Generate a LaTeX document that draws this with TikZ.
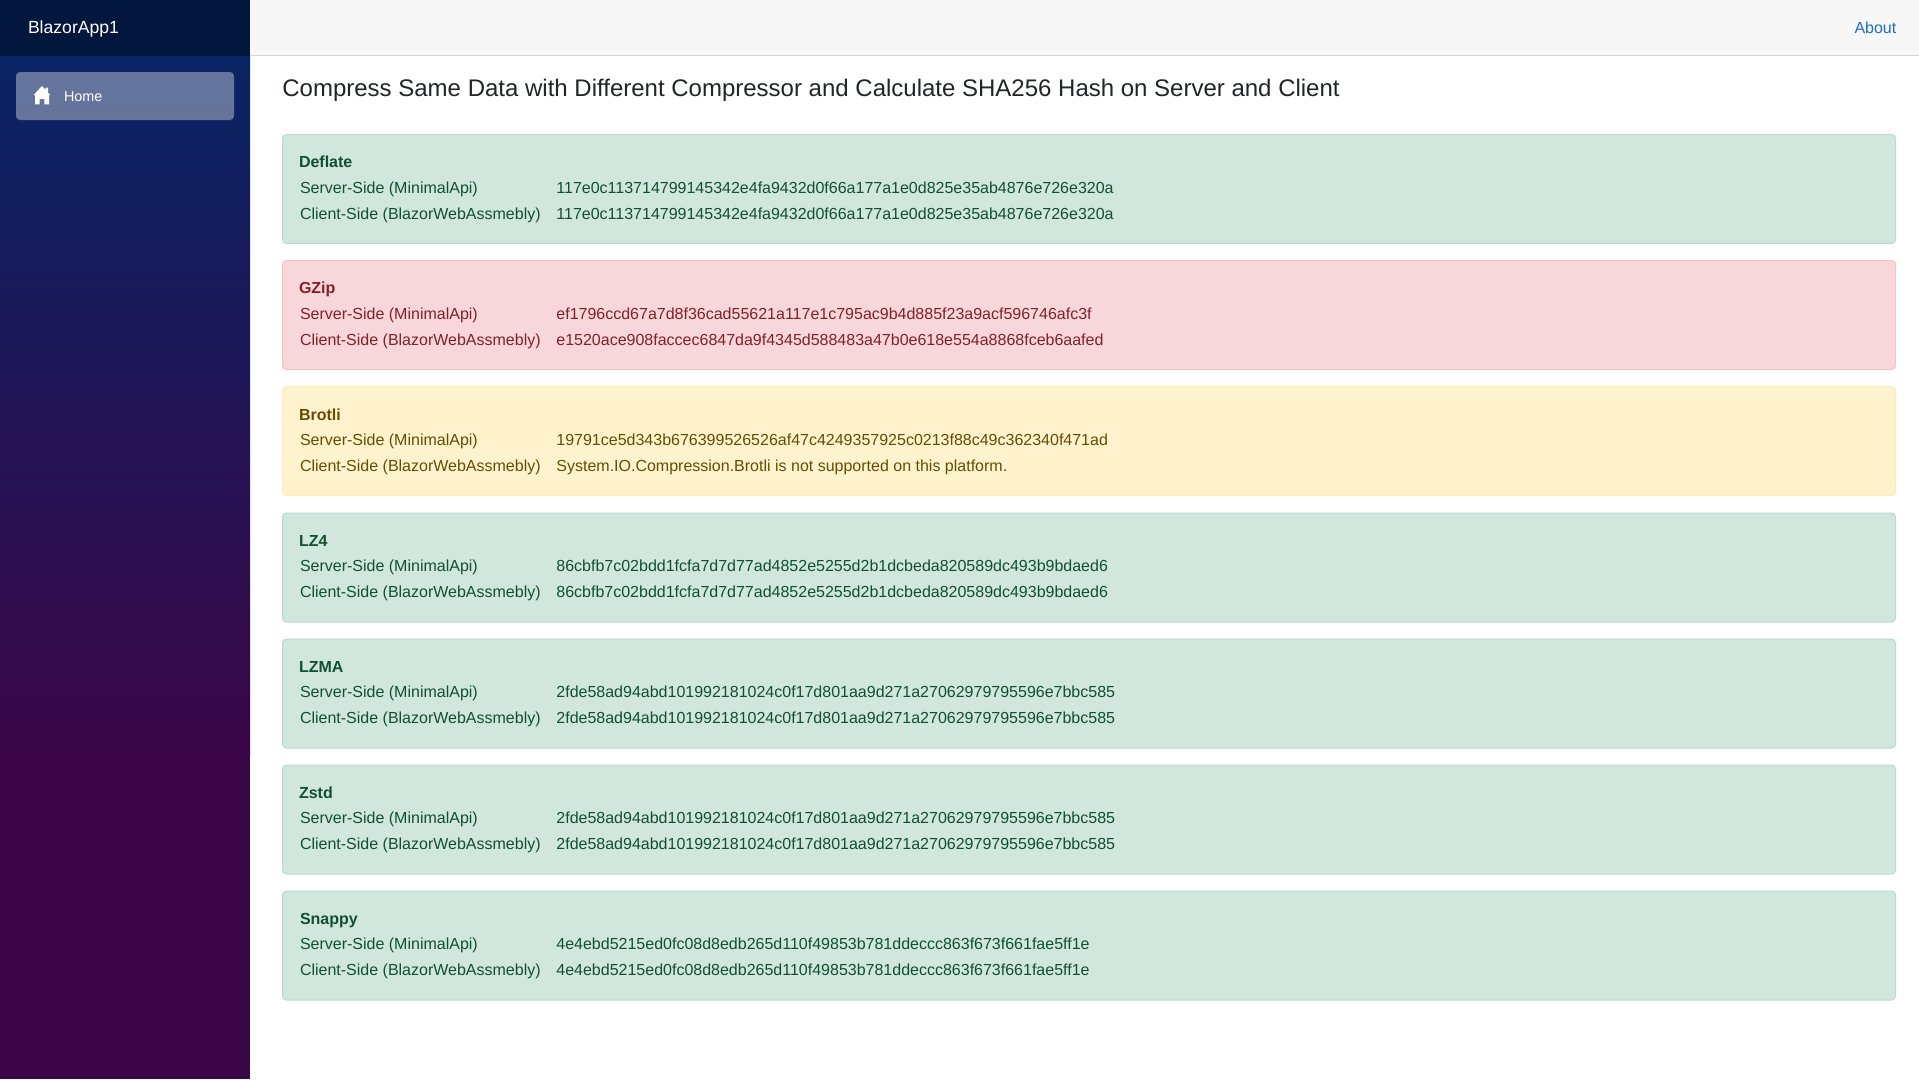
\documentclass[tikz,border=0pt]{standalone}
\usepackage{fontspec}
\setmainfont{Liberation Sans}
\definecolor{okbg}{HTML}{D1E7DD}\definecolor{okbd}{HTML}{BADBCC}\definecolor{oktx}{HTML}{0F5132}
\definecolor{badbg}{HTML}{F8D7DA}\definecolor{badbd}{HTML}{F5C2C7}\definecolor{badtx}{HTML}{842029}
\definecolor{warnbg}{HTML}{FFF3CD}\definecolor{warnbd}{HTML}{FFECB5}\definecolor{warntx}{HTML}{664D03}
\definecolor{sidetop}{RGB}{5,39,103}\definecolor{sidebot}{RGB}{58,6,71}
\definecolor{brandbg}{HTML}{03173E}\definecolor{headbg}{HTML}{F7F7F7}\definecolor{headbd}{HTML}{D6D5D5}
\definecolor{linkc}{HTML}{1B6EC2}\definecolor{titlec}{HTML}{212529}
\tikzset{
  x=0.75pt,y=-0.75pt,
  txt/.style={anchor=base west,inner sep=0pt,outer sep=0pt,font=\fontsize{12}{14}\selectfont},
  headtxt/.style={txt,font=\fontsize{12}{14}\selectfont\bfseries},
  alertbox/.style={rounded corners=3pt,line width=0.75pt},
}
\newcommand{\alertrow}[8]{%
  % #1 name, #2 top y, #3 colour prefix, #4 title, #5 server hash, #6 client hash, #7 hash x, #8 title x
  \path[alertbox,fill=#3bg,draw=#3bd] (282.5,#2+0.5) rectangle (1895.5,#2+109.5);
  \node[headtxt,text=#3tx] (#1t) at (#8,#2+33.8) {#4};
  \node[txt,text=#3tx] (#1sl) at (300,#2+59.3) {Server-Side (MinimalApi)};
  \node[txt,text=#3tx] (#1cl) at (300,#2+85.3) {Client-Side (BlazorWebAssmebly)};
  \node[txt,text=#3tx] (#1sv) at (#7,#2+59.3) {#5};
  \node[txt,text=#3tx] (#1cv) at (#7,#2+85.3) {#6};
}
\begin{document}
\begin{tikzpicture}
\useasboundingbox (0,0) rectangle (1919,1079);
\fill[white] (0,0) rectangle (1919,1079);
% sidebar
\fill[sidebot] (0,755) rectangle (250,1079);
\shade[top color=sidetop,bottom color=sidebot,shading angle=0] (0,0) rectangle (250,755.3);
\fill[brandbg] (0,0) rectangle (250,56);
\node[txt,text=white,font=\fontsize{13.2}{15}\selectfont] (brand) at (28,33.5) {BlazorApp1};
\fill[white,fill opacity=0.37,rounded corners=3pt] (16,72) rectangle (234,120);
\fill[white] (42,86) -- (33.7,95) -- (35,95) -- (35,104.3) -- (39.5,104.3) -- (39.5,99) -- (44.3,99) -- (44.3,104.3) -- (49,104.3) -- (49,95) -- (50.3,95) -- (48,92.5) -- (48,87.5) -- (45.5,87.5) -- (45.5,89.5) -- cycle;
\node[txt,text=white,font=\fontsize{10.8}{13}\selectfont] (home) at (64,101.3) {Home};
% header
\fill[headbg] (250,0) rectangle (1919,55);
\fill[headbd] (250,55) rectangle (1919,56);
\node[txt,anchor=base east,text=linkc] (about) at (1896.3,33) {About};
% title
\node[txt,text=titlec,font=\fontsize{18}{22}\selectfont] (title) at (282.4,96) {Compress Same Data with Different Compressor and Calculate SHA256 Hash on Server and Client};
% alerts
\alertrow{a}{134}{ok}{Deflate}{117e0c113714799145342e4fa9432d0f66a177a1e0d825e35ab4876e726e320a}{117e0c113714799145342e4fa9432d0f66a177a1e0d825e35ab4876e726e320a}{556.4}{299}
\alertrow{b}{260}{bad}{GZip}{ef1796ccd67a7d8f36cad55621a117e1c795ac9b4d885f23a9acf596746afc3f}{e1520ace908faccec6847da9f4345d588483a47b0e618e554a8868fceb6aafed}{556.4}{299}
\alertrow{c}{386.2}{warn}{Brotli}{19791ce5d343b676399526526af47c4249357925c0213f88c49c362340f471ad}{System.IO.Compression.Brotli is not supported on this platform.}{556.4}{299}
\alertrow{d}{512.5}{ok}{LZ4}{86cbfb7c02bdd1fcfa7d7d77ad4852e5255d2b1dcbeda820589dc493b9bdaed6}{86cbfb7c02bdd1fcfa7d7d77ad4852e5255d2b1dcbeda820589dc493b9bdaed6}{556.4}{299}
\alertrow{e}{638.5}{ok}{LZMA}{2fde58ad94abd101992181024c0f17d801aa9d271a27062979795596e7bbc585}{2fde58ad94abd101992181024c0f17d801aa9d271a27062979795596e7bbc585}{556.4}{299}
\alertrow{f}{764.5}{ok}{Zstd}{2fde58ad94abd101992181024c0f17d801aa9d271a27062979795596e7bbc585}{2fde58ad94abd101992181024c0f17d801aa9d271a27062979795596e7bbc585}{556.4}{299}
\alertrow{g}{890.5}{ok}{Snappy}{4e4ebd5215ed0fc08d8edb265d110f49853b781ddeccc863f673f661fae5ff1e}{4e4ebd5215ed0fc08d8edb265d110f49853b781ddeccc863f673f661fae5ff1e}{556.4}{300}
\end{tikzpicture}
\end{document}
